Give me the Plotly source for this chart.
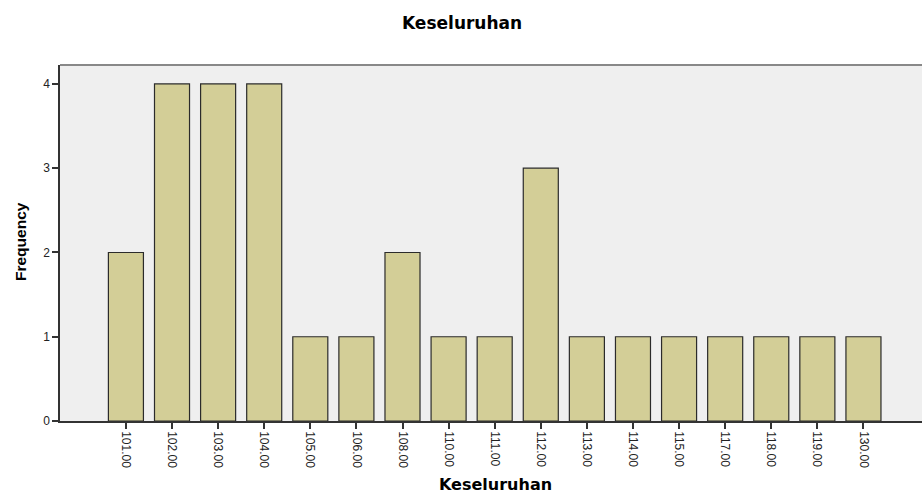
import plotly.graph_objects as go

categories = ["101.00", "102.00", "103.00", "104.00", "105.00", "106.00", "108.00", "110.00",
              "111.00", "112.00", "113.00", "114.00", "115.00", "117.00", "118.00", "119.00", "130.00"]
frequency = [2, 4, 4, 4, 1, 1, 2, 1, 1, 3, 1, 1, 1, 1, 1, 1, 1]
y_ticks = [0, 1, 2, 3, 4]

W, H = 922, 495
L, R, T, B = 60, 0, 65, 74

fig = go.Figure()
fig.add_trace(go.Bar(
    x=list(range(len(categories))), y=frequency,
    marker=dict(color="#D3CE97", line=dict(color="#2b2b2b", width=1.2)),
    width=0.76,
))

fig.update_layout(
    width=W, height=H,
    margin=dict(l=L, r=R, t=T, b=B, autoexpand=False),
    paper_bgcolor="white", plot_bgcolor="#EFEFEF",
    showlegend=False,
    font=dict(family="Arial, Liberation Sans", color="#222"),
)
fig.update_xaxes(
    tickmode="array", tickvals=list(range(len(categories))), ticktext=categories,
    tickangle=90, tickfont=dict(size=12, color="#222"),
    range=[-1.43, 17.27], automargin=False,
    showline=True, linecolor="#333", linewidth=1.5,
    ticks="outside", ticklen=6, tickcolor="#333", tickwidth=1.5,
    showgrid=False, zeroline=False,
)
fig.update_yaxes(
    tickmode="array", tickvals=y_ticks,
    range=[0, 4.225], automargin=False,
    tickfont=dict(size=12, color="#222"),
    showline=True, linecolor="#333", linewidth=1.5,
    ticks="outside", ticklen=6, tickcolor="#333", tickwidth=1.5,
    showgrid=False, zeroline=False,
)
fig.add_shape(type="line", xref="paper", yref="paper", x0=0, x1=1, y0=1, y1=1,
              line=dict(color="#888", width=2))

# chart title
fig.add_annotation(text="<b>Keseluruhan</b>", xref="paper", yref="paper",
                   x=(462 - L) / (W - L - R), y=1 + (T - 23.5) / (H - T - B),
                   xanchor="center", yanchor="middle", showarrow=False,
                   font=dict(family="DejaVu Sans", size=17, color="black"))
# x-axis title
fig.add_annotation(text="<b>Keseluruhan</b>", xref="paper", yref="paper",
                   x=(495 - L) / (W - L - R), y=-(484 - (H - B)) / (H - T - B),
                   xanchor="center", yanchor="middle", showarrow=False,
                   font=dict(family="DejaVu Sans", size=16, color="black"))
# y-axis title
fig.add_annotation(text="<b>Frequency</b>", xref="paper", yref="paper",
                   x=-(L - 20) / (W - L - R), y=(H - B - 242) / (H - T - B),
                   xanchor="center", yanchor="middle", showarrow=False, textangle=-90,
                   font=dict(family="Liberation Sans, Arial", size=15.5, color="black"))
fig.write_html("out.html", config={"displayModeBar": False},
               post_script="document.body.style.margin='0';document.body.style.overflow='hidden';")
